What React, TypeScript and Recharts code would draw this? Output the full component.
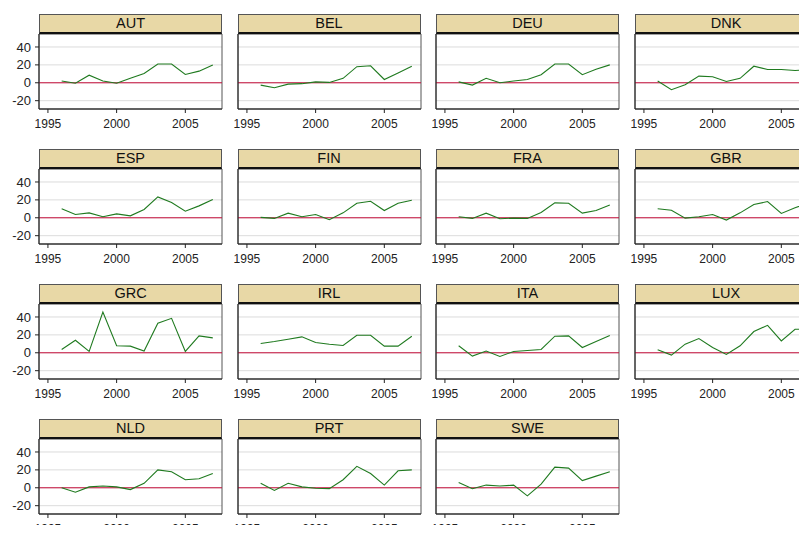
import {
  LineChart,
  Line,
  XAxis,
  YAxis,
  CartesianGrid,
  ReferenceLine,
  ReferenceArea,
} from "recharts";

const YEARS = [1996, 1997, 1998, 1999, 2000, 2001, 2002, 2003, 2004, 2005, 2006, 2007];

const AUT = [2, -0.5, 8.5, 2, -0.5, 5, 10.4, 21, 21, 9.3, 13, 20];
const BEL = [-2.6, -5.5, -1.5, -1, 1, 0.4, 5, 18, 19, 3.7, 11, 18.5];
const DEU = [1, -2.6, 5, 0, 2, 3.7, 9, 21, 21, 9, 15, 20];
const DNK = [2, -7.8, -2.2, 7.4, 6.7, 1.5, 5, 18.5, 14.8, 14.8, 13.7, 15];
const ESP = [10, 3.7, 5.5, 1.1, 4.4, 2.2, 9.3, 23.3, 17, 7.4, 13.3, 20.4];
const FIN = [0.4, -0.7, 5.2, 1.1, 3.7, -2.2, 5.5, 16.3, 18.5, 8.1, 16.3, 19.6];
const FRA = [1.1, -0.7, 5.2, -1.1, -0.4, -0.7, 5.9, 16.7, 16.3, 5.2, 8.1, 14.4];
const GBR = [10, 8.5, -0.4, 1.1, 3.7, -2.6, 5.5, 14.8, 18.1, 4.8, 11.1, 17];
const GRC = [3.7, 14, 1.5, 45.5, 7.8, 7.4, 1.9, 33, 38.5, 1.5, 18.9, 16.7];
const IRL = [10.4, 12.6, 15.2, 17.8, 11.5, 9.6, 8.1, 19.6, 19.6, 7.4, 7.4, 18.5];
const ITA = [7.8, -3.7, 1.9, -4.1, 1.5, 2.6, 3.7, 18.5, 18.9, 5.9, 12.6, 19.3];
const LUX = [3.3, -2.6, 9.6, 15.9, 5.9, -1.9, 7.8, 23.7, 30.7, 13.3, 26.3, 26.3];
const NLD = [0, -5, 1, 2, 1, -2, 5, 20, 18, 9, 10, 16];
const PRT = [5, -3, 5, 1, -0.5, -1, 9, 24, 16, 3, 19, 20];
const SWE = [6, -1, 3, 2, 3, -9, 4, 23, 22, 8, 13, 18];

const COUNTRIES = ["AUT", "BEL", "DEU", "DNK", "ESP", "FIN", "FRA", "GBR", "GRC", "IRL", "ITA", "LUX", "NLD", "PRT", "SWE"];
const SERIES = [AUT, BEL, DEU, DNK, ESP, FIN, FRA, GBR, GRC, IRL, ITA, LUX, NLD, PRT, SWE];

const X_TICKS = [1995, 2000, 2005];
const Y_TICKS = [-20, 0, 20, 40];
const X_DOMAIN: [number, number] = [1994.35, 2007.67];
const Y_DOMAIN: [number, number] = [-29.3, 54.5];

const COL_LEFT = [39, 237.5, 436, 634.5];
const ROW_TOP = [14, 149, 284, 419];
const PLOT_W = 183;
const PLOT_H = 75;
const HEADER_H = 19.5;
const Y_AXIS_W = 39;
const X_AXIS_H = 25;

const FONT = "'Liberation Sans', Arial, sans-serif";

// panels after the first column keep their ticks (for the grid) but show no labels
const NoTick = () => <g />;

function Panel({ name, values, col, row }: { name: string; values: number[]; col: number; row: number }) {
  const data = YEARS.map((year, i) => ({ year, value: values[i] }));
  const left = COL_LEFT[col];
  const top = ROW_TOP[row];
  const first = col === 0;

  return (
    <>
      <div
        style={{
          position: "absolute",
          left,
          top,
          width: PLOT_W,
          height: HEADER_H,
          boxSizing: "border-box",
          background: "#e8d8a6",
          borderTop: "1px solid #555",
          borderLeft: "1px solid #555",
          borderRight: "1px solid #555",
          borderBottom: "2px solid #111",
          textAlign: "center",
          fontSize: 14.5,
          lineHeight: "17px",
          color: "#111",
        }}
      >
        {name}
      </div>
      <div style={{ position: "absolute", left: left - Y_AXIS_W, top: top + HEADER_H }}>
        <LineChart
          width={Y_AXIS_W + PLOT_W + 2}
          height={PLOT_H + X_AXIS_H}
          data={data}
          margin={{ top: 0, right: 2, bottom: 0, left: 0 }}
        >
          <CartesianGrid vertical={false} stroke="#dcdcdc" />
          <XAxis
            type="number"
            dataKey="year"
            domain={X_DOMAIN}
            ticks={X_TICKS}
            allowDataOverflow
            interval={0}
            height={X_AXIS_H}
            tickSize={4}
            tickMargin={6}
            tick={{ fontSize: 12, fill: "#222" }}
            axisLine={{ stroke: "#222" }}
            tickLine={{ stroke: "#222" }}
          />
          <YAxis
            type="number"
            domain={Y_DOMAIN}
            ticks={Y_TICKS}
            allowDataOverflow
            interval={0}
            width={Y_AXIS_W}
            tickSize={first ? 4 : 0}
            tickMargin={4}
            tick={first ? { fontSize: 13, fill: "#222" } : NoTick}
            axisLine={{ stroke: "#222" }}
            tickLine={first ? { stroke: "#222" } : false}
          />
          <ReferenceArea
            x1={X_DOMAIN[0]}
            x2={X_DOMAIN[1]}
            y1={Y_DOMAIN[0]}
            y2={Y_DOMAIN[1]}
            fill="none"
            stroke="#555"
            ifOverflow="visible"
          />
          <ReferenceLine y={0} stroke="#c8103c" strokeWidth={1} />
          <Line
            type="linear"
            dataKey="value"
            stroke="#1f7a1f"
            strokeWidth={1.1}
            dot={false}
            activeDot={false}
            isAnimationActive={false}
          />
        </LineChart>
      </div>
    </>
  );
}

export default function App() {
  return (
    <div
      style={{
        position: "relative",
        width: 807,
        height: 533,
        margin: -8,
        overflow: "hidden",
        background: "#fff",
        fontFamily: FONT,
      }}
    >
      {COUNTRIES.map((name, i) => (
        <Panel key={name} name={name} values={SERIES[i]} col={i % 4} row={Math.floor(i / 4)} />
      ))}
    </div>
  );
}
